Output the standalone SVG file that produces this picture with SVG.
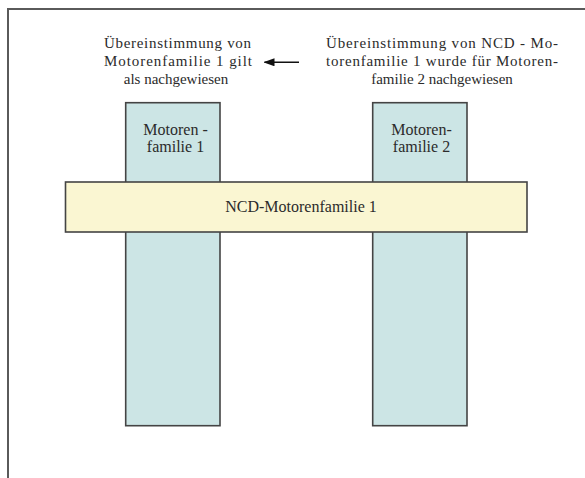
<svg xmlns="http://www.w3.org/2000/svg" width="585" height="478" viewBox="0 0 585 478">
<style>
text{font-family:"Liberation Serif","DejaVu Serif",serif;font-size:15px;fill:#2b2b2b}
.big{font-size:16px}
.col{fill:#cce5e5;stroke:#444;stroke-width:1.6}
.bar{fill:#faf6d2;stroke:#444;stroke-width:1.6}
.frame{stroke:#5a5a5a;stroke-width:2;fill:none}
.c{text-anchor:middle}
</style>
<defs>
<marker id="ah" markerWidth="11" markerHeight="8" refX="10" refY="4" orient="auto" markerUnits="userSpaceOnUse">
<path d="M0,0 L11,4 L0,8 Z" fill="#111"/>
</marker>
</defs>
<path class="frame" d="M8,478 V9 H585"/>
<g id="family1">
<rect class="col" x="125.7" y="102.7" width="94.3" height="323"/>
<text class="c big" x="175.5" y="135">Motoren -</text>
<text class="c big" x="175.5" y="152">familie 1</text>
</g>
<g id="family2">
<rect class="col" x="372.7" y="102.7" width="94.3" height="323"/>
<text class="c big" x="421.5" y="135">Motoren-</text>
<text class="c big" x="421.5" y="152">familie 2</text>
</g>
<g id="ncd">
<rect class="bar" x="65.5" y="182" width="461.5" height="50"/>
<text class="c big" x="301" y="212">NCD-Motorenfamilie 1</text>
</g>
<g id="note-left">
<text x="104" y="48" textLength="147" lengthAdjust="spacing">Übereinstimmung von</text>
<text x="104" y="66" textLength="148" lengthAdjust="spacing">Motorenfamilie 1 gilt</text>
<text class="c" x="176" y="83.5">als nachgewiesen</text>
</g>
<g id="note-right">
<text x="326" y="48" textLength="232" lengthAdjust="spacing">Übereinstimmung von NCD - Mo-</text>
<text x="326" y="66" textLength="232" lengthAdjust="spacing">torenfamilie 1 wurde für Motoren-</text>
<text class="c" x="442" y="83.5">familie 2 nachgewiesen</text>
</g>
<g id="connectors">
<line x1="299" y1="62.3" x2="264.5" y2="62.3" stroke="#111" stroke-width="1.6" marker-end="url(#ah)"/>
</g>
</svg>
